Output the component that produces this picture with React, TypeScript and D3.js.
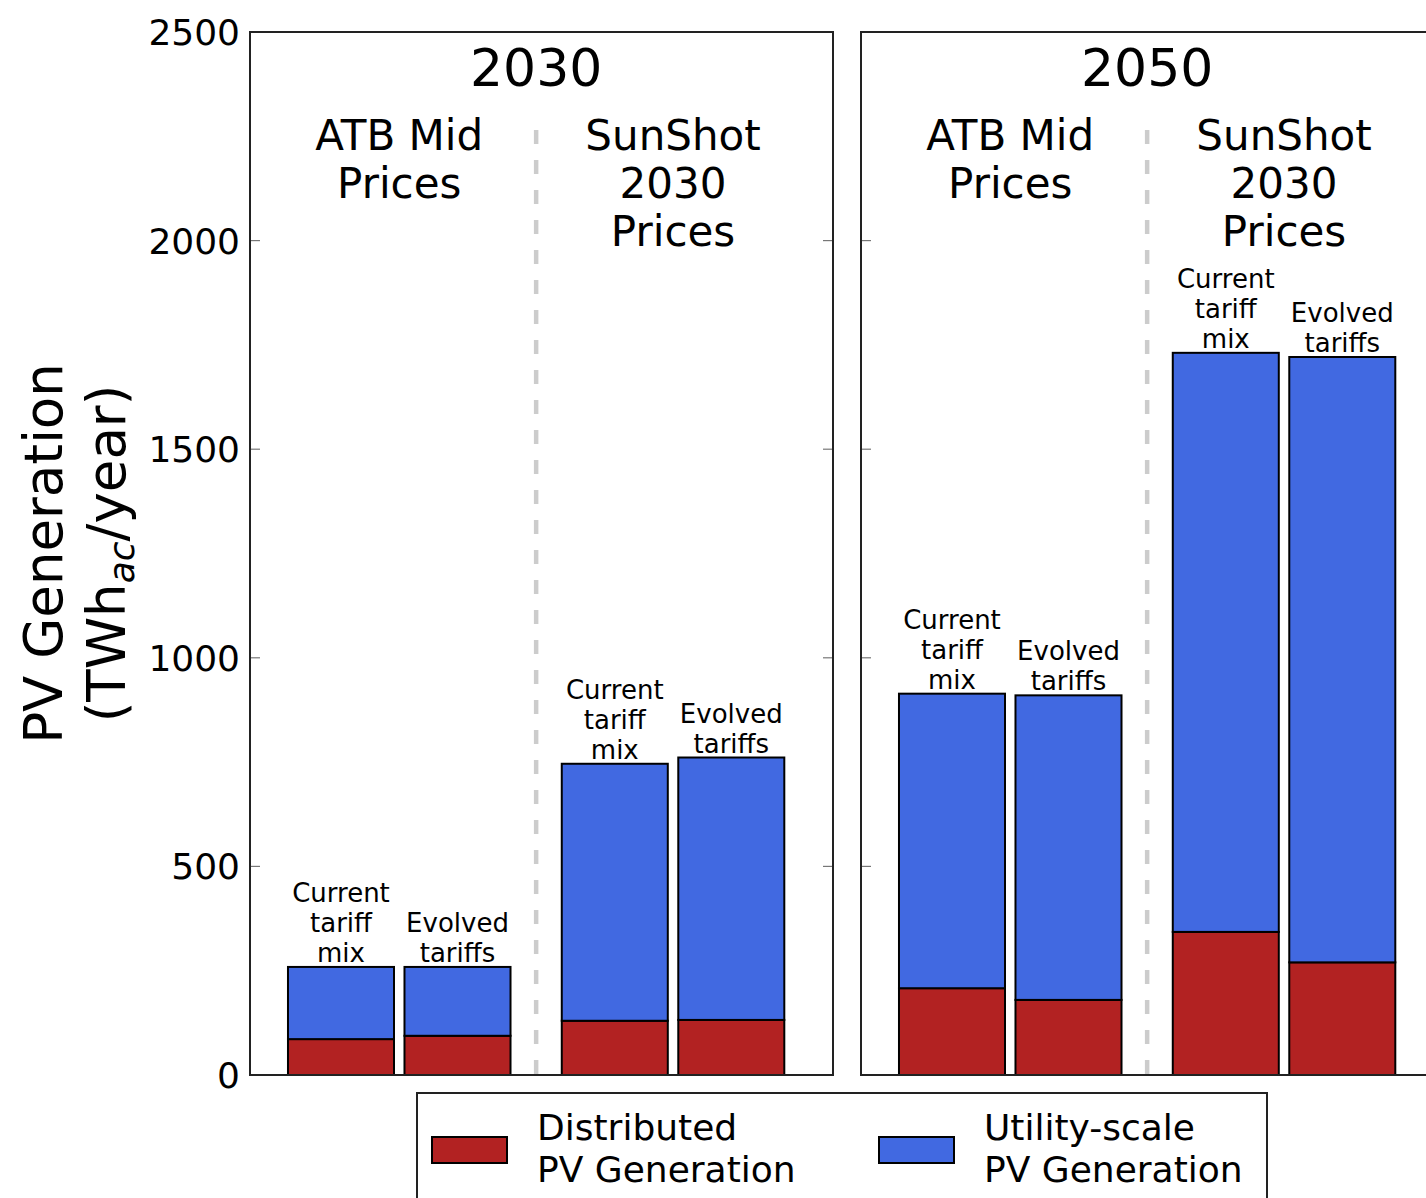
import React from "react";
import * as d3 from "d3";

// Panels (projection years) and price scenarios within each panel
const years = ["2030", "2050"];
const scenarioLabels = [
  ["ATB Mid", "Prices"],
  ["SunShot", "2030", "Prices"],
];
const tariffLabels = [
  ["Current", "tariff", "mix"],
  ["Evolved", "tariffs"],
];

// PV generation (TWh_ac/year); bar order: ATB current, ATB evolved, SunShot current, SunShot evolved
const distributed2030 = [86, 94, 130, 132];
const utility2030 = [173, 165, 616, 629];
const distributed2050 = [208, 180, 343, 270];
const utility2050 = [706, 730, 1388, 1451];

const yTicks = [0, 500, 1000, 1500, 2000, 2500];

const legendItems = [
  { label: ["Distributed", "PV Generation"], color: "#b22222" },
  { label: ["Utility-scale", "PV Generation"], color: "#4169e1" },
];

const FONT = "'DejaVu Sans', sans-serif";
const RED = "#b22222";
const BLUE = "#4169e1";

export default function App() {
  const W = 1426;
  const H = 1198;
  const plotTop = 32;
  const plotBottom = 1075;
  const panelLeft0 = 250;
  const panelStep = 611;
  const panelWidth = 583;

  const y = d3.scaleLinear().domain([0, 2500]).range([plotBottom, plotTop]);

  const series = [
    { distributed: distributed2030, utility: utility2030 },
    { distributed: distributed2050, utility: utility2050 },
  ];

  // bar slot positions in band units: two pairs separated by a wider gap
  const slot = (g: number, i: number) => g * 2.35 + i;
  const barW = 0.91;
  const dividerPos = 1.675;

  return (
    <svg
      width={W}
      height={H}
      style={{ position: "absolute", left: 0, top: 0, background: "#fff" }}
      fontFamily={FONT}
    >
      {/* y-axis title */}
      <text
        transform={`translate(62, ${(plotTop + plotBottom) / 2}) rotate(-90)`}
        textAnchor="middle"
        fontSize={53}
        fill="#000"
      >
        PV Generation
      </text>
      <text
        transform={`translate(125, ${(plotTop + plotBottom) / 2}) rotate(-90)`}
        textAnchor="middle"
        fontSize={53}
        fill="#000"
      >
        (TWh
        <tspan fontSize={36} fontStyle="italic" dy={9}>
          ac
        </tspan>
        <tspan dy={-9}>/year)</tspan>
      </text>

      {years.map((yr, p) => {
        const left = panelLeft0 + p * panelStep;
        const x = d3
          .scaleLinear()
          .domain([-0.781, 4.223])
          .range([left, left + panelWidth]);
        const bw = x(barW) - x(0);
        const s = series[p];
        return (
          <g key={yr}>
            {/* divider between scenarios */}
            <line
              x1={x(dividerPos)}
              x2={x(dividerPos)}
              y1={130}
              y2={plotBottom}
              stroke="#cccccc"
              strokeWidth={4.5}
              strokeDasharray="14,16"
            />
            {/* ticks on both sides, pointing inward */}
            {yTicks.map((t) => (
              <g key={t}>
                <line x1={left} x2={left + 10} y1={y(t)} y2={y(t)} stroke="#777" strokeWidth={1.2} />
                <line
                  x1={left + panelWidth - 10}
                  x2={left + panelWidth}
                  y1={y(t)}
                  y2={y(t)}
                  stroke="#777"
                  strokeWidth={1.2}
                />
              </g>
            ))}
            {p === 0 &&
              yTicks.map((t) => (
                <text
                  key={t}
                  x={left - 10}
                  y={y(t)}
                  dy="0.36em"
                  textAnchor="end"
                  fontSize={36}
                  fill="#000"
                >
                  {t}
                </text>
              ))}
            {/* panel title */}
            <text x={x(dividerPos)} y={86} textAnchor="middle" fontSize={52} fill="#000">
              {yr}
            </text>
            {/* scenario titles */}
            {scenarioLabels.map((lines, g) => {
              const cx = (x(slot(g, 0)) + x(slot(g, 1))) / 2;
              return (
                <text key={g} textAnchor="middle" fontSize={42} fill="#000">
                  {lines.map((ln, k) => (
                    <tspan key={k} x={cx} y={150 + k * 48}>
                      {ln}
                    </tspan>
                  ))}
                </text>
              );
            })}
            {/* stacked bars */}
            {s.distributed.map((dv, b) => {
              const g = Math.floor(b / 2);
              const i = b % 2;
              const cx = x(slot(g, i));
              const uv = s.utility[b];
              const top = y(dv + uv);
              const lbl = tariffLabels[i];
              return (
                <g key={b}>
                  <rect
                    x={cx - bw / 2}
                    y={y(dv)}
                    width={bw}
                    height={y(0) - y(dv)}
                    fill={RED}
                    stroke="#000"
                    strokeWidth={2}
                  />
                  <rect
                    x={cx - bw / 2}
                    y={top}
                    width={bw}
                    height={y(dv) - top}
                    fill={BLUE}
                    stroke="#000"
                    strokeWidth={2}
                  />
                  <text textAnchor="middle" fontSize={26} fill="#000">
                    {lbl.map((ln, k) => (
                      <tspan key={k} x={cx} y={top - 5 - (lbl.length - 1 - k) * 30}>
                        {ln}
                      </tspan>
                    ))}
                  </text>
                </g>
              );
            })}
            {/* panel frame */}
            <rect
              x={left}
              y={plotTop}
              width={panelWidth}
              height={plotBottom - plotTop}
              fill="none"
              stroke="#222"
              strokeWidth={2}
            />
          </g>
        );
      })}

      {/* legend */}
      <g>
        <rect x={417} y={1093} width={850} height={130} fill="#fff" stroke="#222" strokeWidth={2} />
        {legendItems.map((it, k) => {
          const px = 432 + k * 447;
          return (
            <g key={k}>
              <rect x={px} y={1137} width={75} height={26} fill={it.color} stroke="#000" strokeWidth={2} />
              <text fontSize={36} fill="#000">
                {it.label.map((ln, j) => (
                  <tspan key={j} x={px + 105} y={1140 + j * 42}>
                    {ln}
                  </tspan>
                ))}
              </text>
            </g>
          );
        })}
      </g>
    </svg>
  );
}
